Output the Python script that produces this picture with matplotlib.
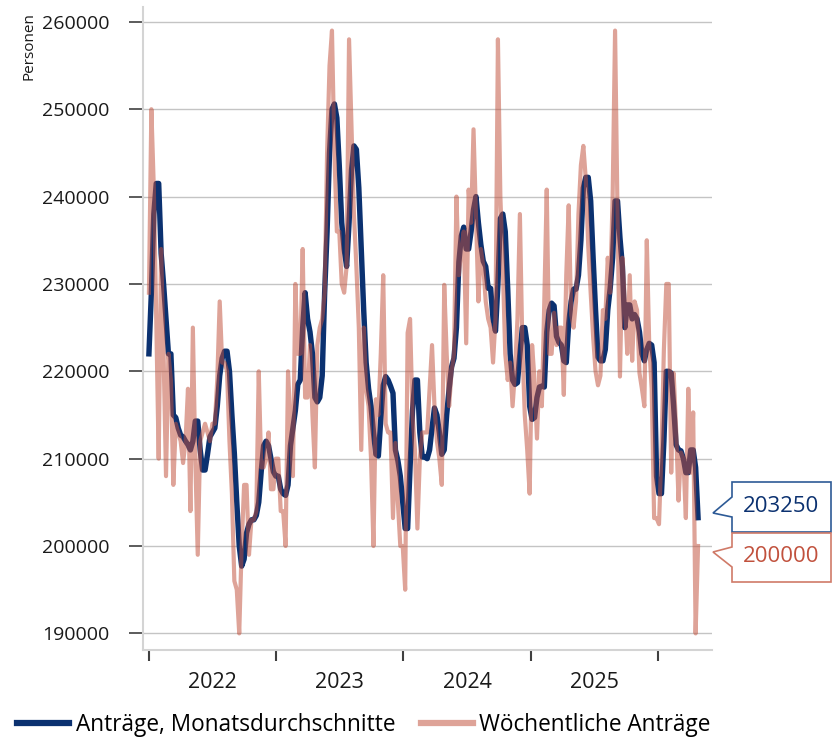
import numpy as np
import pandas as pd
import matplotlib
matplotlib.use('Agg')
import matplotlib.pyplot as plt
import matplotlib.dates as mdates
from matplotlib.lines import Line2D
from matplotlib.patches import Polygon

plt.rcParams['font.family'] = ['Open Sans', 'DejaVu Sans']

# Wöchentliche Erstanträge (Tausend Personen), Wochen ab 01.01.2022
weekly_k = [
    229, 250, 241, 226, 210, 234, 222, 208, 222, 219, 207, 214, 213, 212, 209.5, 212,
    218, 204, 225, 210, 199, 212, 213, 214, 213, 212, 214, 214, 219, 228, 221, 221,
    220, 212, 206, 196, 195, 190, 200, 207, 207, 199, 203, 203, 204, 220,
    209, 209, 210, 213, 206.5, 206.5, 210, 210, 204, 204, 200, 220, 214, 208, 230, 222,
    222, 234, 217, 217, 223, 215, 209, 223, 225, 226, 229, 245, 255, 259, 245, 236,
    236, 230, 229, 232, 258, 248, 238, 232, 225, 211, 225, 218, 216, 210, 200,
    216.8, 215, 222, 231, 214, 213, 213, 203.2, 211.8, 205, 200, 200, 195, 224.4, 226, 215,
    211, 202, 210, 213, 213, 213, 218, 223, 216, 212, 210, 207, 229.9, 222, 216, 220,
    222, 240, 231, 234, 236, 223.2, 240.8, 237, 247.7, 238, 228, 234, 232, 228, 226,
    225, 221, 226, 258, 240, 232, 222, 219, 221, 216, 220, 226, 238, 223, 215, 211,
    206, 223, 219, 212.3, 220, 216, 228, 240.8, 222, 222, 226.7, 223, 225, 225, 217.3, 231,
    239, 226.5, 225, 228, 238, 243.6, 245.8, 242, 234.4, 229, 224, 220, 218.4, 219.5, 227,
    226, 233, 229, 240, 259, 238, 219.4, 233, 228, 222, 231, 221.2, 228, 227, 219.8, 218,
    216, 235, 223, 218, 203.2, 203.2, 202.5, 210.7, 222.5, 230, 230, 208.4, 219.8, 213.4, 205.2, 210.7,
    210, 203.2, 218, 208.4, 215.3, 190, 200,
]

# Anträge, Monatsdurchschnitte (Tausend Personen)
monthly_k = [
    222, 229, 238, 241.5, 241.5, 233.5, 230, 226, 222, 222, 215, 214.7, 213.5, 212.7, 212.5, 212,
    211.6, 211, 212, 214.3, 214.3, 211, 208.7, 208.7, 210.5, 212.5, 213, 213.5, 216, 219.5, 221.5, 222.3,
    222.3, 220, 215, 210.6, 205, 200, 197.7, 198.5, 201.5, 202.5, 203, 203, 203.5, 205,
    208.5, 211.5, 212, 211.5, 210, 208.5, 208, 208, 206.5, 206, 205.8, 207, 211.5, 213.5, 215.5, 218.5,
    219, 225, 229, 226, 224.5, 222, 217, 216.5, 217, 219.5, 229, 236, 245, 250, 250.6, 249,
    243.5, 237, 234, 232, 237, 243, 245.8, 245.4, 241, 234, 227, 221, 218, 216, 213,
    210.5, 210.3, 214.5, 218.4, 219.4, 219, 218.3, 217.5, 211, 209.8, 208, 205, 202, 202, 209, 215.5,
    219, 219, 213, 210.2, 210.2, 210, 211, 213.5, 215.8, 215, 213, 210.5, 211, 215, 218, 220.5,
    221.5, 225, 232.5, 235.5, 236.5, 234, 234, 236, 238.5, 240, 237, 234.5, 232.6, 232, 229.5,
    229.5, 226, 224.6, 230, 237.5, 238, 236, 229.5, 222, 219, 218.5, 218.7, 222, 225, 225, 223,
    216, 214.5, 214.7, 217, 218.2, 218.3, 218.2, 224.5, 227, 227.8, 227.5, 224, 223.3, 223, 221.2, 221,
    225.5, 228, 229.4, 229.4, 231, 235, 241, 242.2, 242.2, 239.5, 233, 227, 221.6, 221.2, 221.2,
    222.5, 227, 229.5, 233, 239.5, 239.5, 235.3, 232, 225, 227.6, 227.6, 226, 226.5, 226, 224.5, 222,
    221.2, 222.5, 223.2, 223, 221, 208, 206, 206, 212, 220, 220, 219.8, 216, 211.6, 211, 210.9,
    210, 208.4, 208.4, 211, 211, 209, 203.25,
]

year_labels = ['2022', '2023', '2024', '2025']
y_ticks = [190000, 200000, 210000, 220000, 230000, 240000, 250000, 260000]

weekly = np.array(weekly_k) * 1000
monthly = np.array(monthly_k) * 1000
weeks = pd.date_range('2022-01-01', periods=len(weekly), freq='7D')

navy = '#0b3170'
salmon = '#c1513d'

W, H = 832, 740
fig = plt.figure(figsize=(W / 100, H / 100), dpi=100)
ax = fig.add_axes([143 / W, 1 - 650 / H, (712 - 143) / W, (650 - 7) / H])

ax.plot(weeks, monthly, color=navy, lw=3.9, solid_joinstyle='round', zorder=3)
ax.plot(weeks, weekly, color=salmon, lw=3.0, alpha=0.53, zorder=4)

ax.set_ylim(188100, 261700)
ax.set_xlim(pd.Timestamp('2021-12-15'), pd.Timestamp('2026-06-04'))

ax.set_yticks(y_ticks)
ax.set_yticklabels([str(v) for v in y_ticks])
ax.grid(axis='y', color='#c4c4c4', lw=1)
ax.set_axisbelow(True)

ax.xaxis.set_major_locator(mdates.YearLocator())
ax.xaxis.set_major_formatter(plt.NullFormatter())
ax.set_xticks([pd.Timestamp(f'{y}-07-02') for y in year_labels], minor=True)
ax.set_xticklabels(year_labels, minor=True)

ax.tick_params(axis='x', which='major', length=8, width=1.5, color='#404040', direction='out')
ax.tick_params(axis='x', which='minor', length=0, pad=16, labelsize=15.5, labelcolor='#1a1a1a')
ax.tick_params(axis='y', length=10, width=1.2, color='#404040', pad=14, labelsize=14, labelcolor='#1a1a1a')

for s in ['top', 'right']:
    ax.spines[s].set_visible(False)
for s in ['left', 'bottom']:
    ax.spines[s].set_color('#d4d4d4')
    ax.spines[s].set_linewidth(1.5)

fig.text(29 / W, 1 - 12 / H, 'Personen', rotation=90, ha='center', va='top', fontsize=11, color='#1a1a1a')

handles = [Line2D([], [], color=navy, lw=4.5),
           Line2D([], [], color=salmon, lw=4.5, alpha=0.53)]
fig.legend(handles, ['Anträge, Monatsdurchschnitte', 'Wöchentliche Anträge'],
           loc='center', bbox_to_anchor=(364 / W, 1 - 725 / H), ncol=2, frameon=False,
           fontsize=16.3, handlelength=2.3, handletextpad=0.3, columnspacing=1.1)


def callout(pts, text, color, tcolor, ty):
    poly = Polygon([(x / W, 1 - y / H) for x, y in pts], closed=True, facecolor='white',
                   edgecolor=color, lw=1.2, transform=fig.transFigure, zorder=5)
    fig.add_artist(poly)
    fig.text(781 / W, 1 - ty / H, text, ha='center', va='center', fontsize=16, color=tcolor, zorder=6)


callout([(732, 482), (831, 482), (831, 532), (732, 532), (732, 517), (713, 513), (732, 497)],
        f'{monthly[-1]:.0f}', '#2d5a96', navy, 506)
callout([(732, 533), (831, 533), (831, 582), (732, 582), (732, 567), (713, 552), (732, 547)],
        f'{weekly[-1]:.0f}', '#d07a68', salmon, 557)

fig.savefig('out.png', dpi=100)
